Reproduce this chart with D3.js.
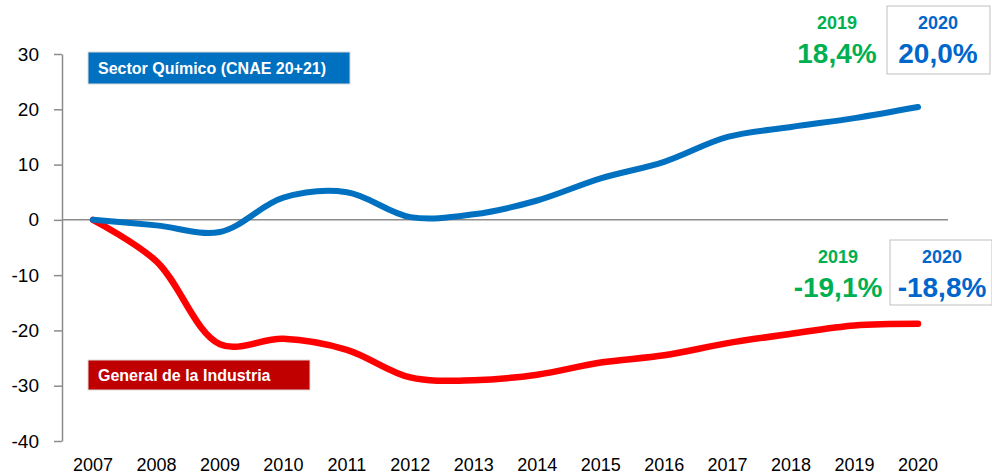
<!DOCTYPE html>
<html>
<head>
<meta charset="utf-8">
<script src="https://cdn.jsdelivr.net/npm/d3@7/dist/d3.min.js"></script>
<style>
  body { margin: 0; background: #fff; }
  svg { font-family: "Liberation Sans", Arial, sans-serif; }
</style>
</head>
<body>
<div id="chart"></div>
<script>
var years = [2007, 2008, 2009, 2010, 2011, 2012, 2013, 2014, 2015, 2016, 2017, 2018, 2019, 2020];
var quimico = [0, -1, -2.2, 4, 5, 0.5, 1, 3.5, 7.5, 10.5, 15, 16.8, 18.4, 20.4];
var industria = [0, -7.5, -22.5, -21.5, -23.5, -28.5, -29, -28, -25.8, -24.5, -22.3, -20.6, -19.1, -18.8];
var yTicks = [30, 20, 10, 0, -10, -20, -30, -40];

var width = 992, height = 474;

var svg = d3.select('#chart').append('svg')
  .attr('width', width)
  .attr('height', height);

var x = d3.scalePoint().domain(years).range([93, 918]);
var y = d3.scaleLinear().domain([-40, 30]).range([441, 54]);

// y axis
var yAxis = svg.append('g')
  .attr('transform', 'translate(62,0)')
  .call(d3.axisLeft(y).tickValues(yTicks).tickSize(8).tickSizeOuter(0).tickFormat(function(d) { return String(d); }));
yAxis.select('.domain').attr('stroke', '#8c8c8c').attr('stroke-width', 1.5);
yAxis.selectAll('.tick line').attr('stroke', '#8c8c8c').attr('stroke-width', 1.5);
yAxis.selectAll('.tick text')
  .attr('x', -23)
  .attr('font-size', 19)
  .attr('font-family', '"Liberation Sans", Arial, sans-serif')
  .attr('fill', '#000');

// zero line
svg.append('line')
  .attr('x1', 62).attr('x2', 948)
  .attr('y1', y(0)).attr('y2', y(0))
  .attr('stroke', '#8c8c8c').attr('stroke-width', 1.5);

// x labels
svg.append('g').selectAll('text')
  .data(years)
  .enter()
  .append('text')
  .attr('x', function(d) { return x(d); })
  .attr('y', 471)
  .attr('text-anchor', 'middle')
  .attr('font-size', 18)
  .attr('fill', '#000')
  .text(function(d) { return d; });

var line = d3.line()
  .x(function(d, i) { return x(years[i]); })
  .y(function(d) { return y(d); })
  .curve(d3.curveCatmullRom.alpha(0.5));

svg.append('path')
  .attr('d', line(industria))
  .attr('fill', 'none')
  .attr('stroke', '#ff0000')
  .attr('stroke-width', 6.5)
  .attr('stroke-linecap', 'round');

svg.append('path')
  .attr('d', line(quimico))
  .attr('fill', 'none')
  .attr('stroke', '#0070c0')
  .attr('stroke-width', 6)
  .attr('stroke-linecap', 'round');

// series labels
var labels = [
  { text: 'Sector Químico (CNAE 20+21)', x: 88, y: 52, w: 262, h: 32, fill: '#0070c0' },
  { text: 'General de la Industria', x: 88, y: 360, w: 222, h: 30, fill: '#c00000' }
];
var lab = svg.append('g').selectAll('g').data(labels).enter().append('g');
lab.append('rect')
  .attr('x', function(d) { return d.x; })
  .attr('y', function(d) { return d.y; })
  .attr('width', function(d) { return d.w; })
  .attr('height', function(d) { return d.h; })
  .attr('fill', function(d) { return d.fill; })
  .attr('stroke', '#d9d9d9');
lab.append('text')
  .attr('x', function(d) { return d.x + 10; })
  .attr('y', function(d) { return d.y + d.h / 2 + 6; })
  .attr('font-size', 16)
  .attr('font-weight', 'bold')
  .attr('fill', '#fff')
  .text(function(d) { return d.text; });

// value callouts
var callouts = [
  { cx: 837, top: 6, year: '2019', value: '18,4%', color: '#00b050', box: false },
  { cx: 938, top: 6, year: '2020', value: '20,0%', color: '#0066cc', box: true, bx: 887, bw: 103, bh: 68 },
  { cx: 838, top: 240, year: '2019', value: '-19,1%', color: '#00b050', box: false },
  { cx: 942, top: 240, year: '2020', value: '-18,8%', color: '#0066cc', box: true, bx: 890, bw: 102, bh: 65 }
];
var co = svg.append('g').selectAll('g').data(callouts).enter().append('g');
co.filter(function(d) { return d.box; })
  .append('rect')
  .attr('x', function(d) { return d.bx; })
  .attr('y', function(d) { return d.top; })
  .attr('width', function(d) { return d.bw; })
  .attr('height', function(d) { return d.bh; })
  .attr('fill', '#fff')
  .attr('stroke', '#bfbfbf')
  .attr('stroke-width', 1);
co.append('text')
  .attr('x', function(d) { return d.cx; })
  .attr('y', function(d) { return d.top + 23; })
  .attr('text-anchor', 'middle')
  .attr('font-size', 18)
  .attr('font-weight', 'bold')
  .attr('fill', function(d) { return d.color; })
  .text(function(d) { return d.year; });
co.append('text')
  .attr('x', function(d) { return d.cx; })
  .attr('y', function(d) { return d.top + 57; })
  .attr('text-anchor', 'middle')
  .attr('font-size', 28)
  .attr('font-weight', 'bold')
  .attr('fill', function(d) { return d.color; })
  .text(function(d) { return d.value; });
</script>
</body>
</html>
